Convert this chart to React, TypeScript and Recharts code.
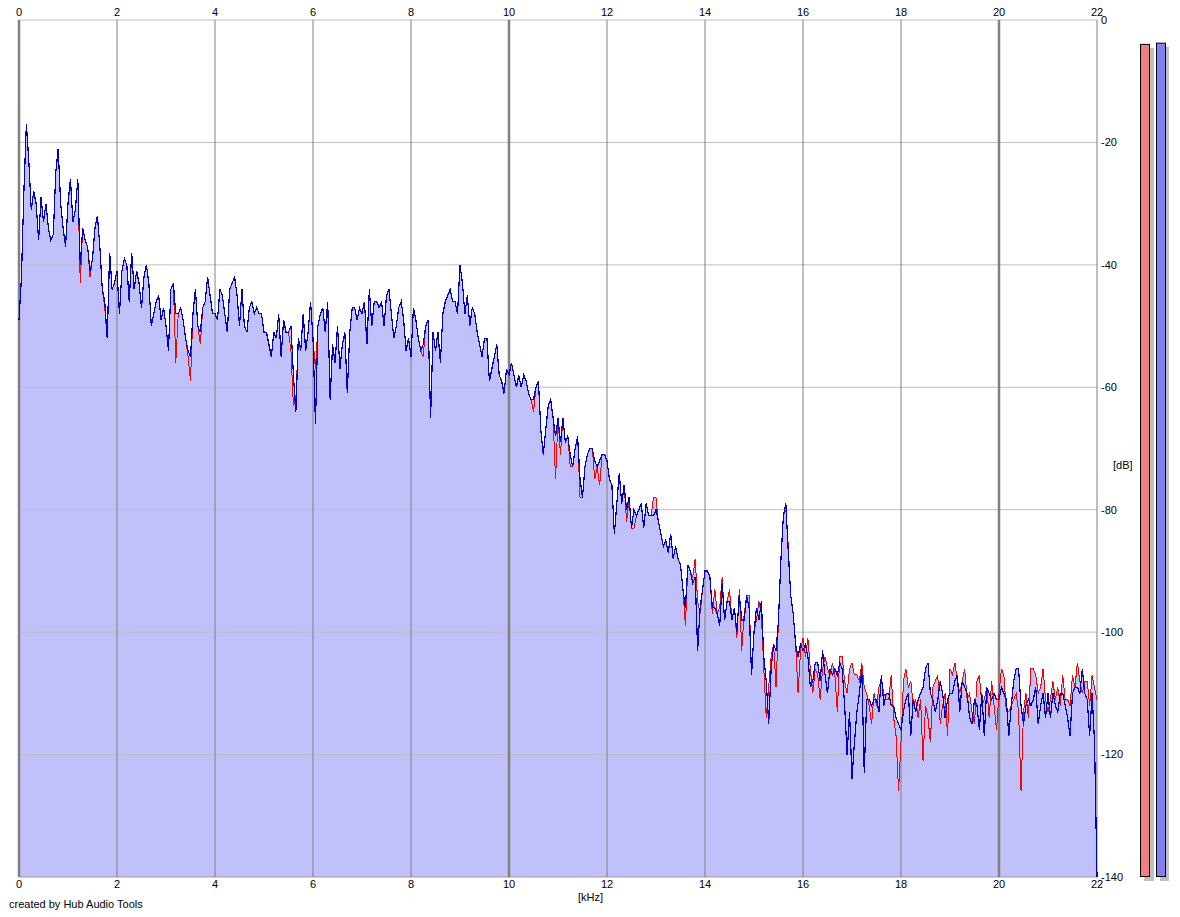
import { ComposedChart, Area, Line, XAxis, YAxis, ReferenceLine, BarChart, Bar } from 'recharts';

// spectrum bins, 0.05 kHz apart, 0 .. 22 kHz (441 bins)
const BIN_KHZ = 0.05;

// left channel (red), dB
const LEFT_DB = [
  -49, -42, -28, -17, -23, -31, -28, -30, -36, -29,
  -33, -30, -34, -36, -35, -25, -21, -30, -34, -37,
  -30, -26, -33, -31, -26, -43, -34, -36, -37, -42,
  -39, -34, -32, -37, -44, -47, -52, -38, -44, -43,
  -41, -48, -41, -39, -40, -46, -38, -44, -41, -43,
  -47, -42, -40, -43, -50, -48, -46, -45, -49, -47,
  -50, -54, -44, -43, -56, -48, -47, -49, -52, -55,
  -59, -48, -44, -50, -53, -47, -46, -42, -45, -48,
  -48, -49, -44, -45, -48, -51, -44, -43, -42, -45,
  -50, -44, -50, -51, -47, -46, -48, -47, -48, -48,
  -51, -51, -53, -55, -51, -52, -48, -55, -49, -51,
  -51, -54, -63, -62, -52, -54, -48, -54, -51, -46,
  -52, -57, -50, -48, -47, -51, -46, -62, -53, -56,
  -50, -57, -53, -51, -61, -51, -47, -47, -49, -47,
  -48, -46, -53, -44, -50, -46, -46, -47, -46, -50,
  -45, -44, -48, -52, -50, -47, -46, -49, -54, -52,
  -55, -47, -49, -52, -54, -55, -50, -49, -65, -51,
  -54, -51, -56, -48, -46, -45, -44, -46, -46, -48,
  -40, -43, -48, -45, -50, -47, -48, -51, -53, -55,
  -52, -52, -59, -57, -55, -53, -58, -59, -61, -57,
  -58, -56, -58, -60, -58, -60, -58, -59, -61, -62,
  -64, -60, -59, -67, -71, -67, -63, -62, -65, -75,
  -65, -71, -65, -69, -68, -73, -73, -70, -68, -78,
  -78, -73, -71, -70, -70, -75, -73, -76, -71, -71,
  -72, -75, -76, -84, -79, -74, -79, -76, -82, -78,
  -83, -83, -81, -80, -79, -83, -79, -81, -81, -78,
  -78, -82, -84, -86, -85, -87, -84, -88, -86, -88,
  -89, -93, -99, -89, -90, -91, -88, -95, -97, -93,
  -90, -90, -91, -97, -93, -97, -96, -91, -98, -95,
  -93, -98, -96, -101, -93, -103, -97, -94, -94, -107,
  -100, -98, -95, -97, -106, -114, -109, -104, -102, -109,
  -98, -88, -81, -80, -86, -94, -97, -102, -110, -103,
  -101, -104, -101, -106, -110, -106, -107, -111, -106, -104,
  -106, -107, -105, -107, -113, -104, -104, -108, -110, -106,
  -105, -107, -107, -108, -105, -109, -110, -112, -115, -110,
  -112, -109, -108, -110, -111, -111, -107, -114, -117, -126,
  -118, -108, -106, -109, -108, -112, -111, -114, -111, -121,
  -112, -114, -118, -109, -108, -107, -115, -112, -110, -117,
  -106, -107, -105, -108, -110, -108, -106, -111, -110, -113,
  -115, -108, -107, -112, -111, -109, -114, -108, -112, -116,
  -110, -106, -107, -113, -113, -112, -111, -110, -113, -126,
  -113, -110, -114, -106, -106, -107, -110, -109, -106, -111,
  -113, -111, -108, -111, -109, -112, -107, -111, -111, -112,
  -107, -109, -105, -108, -110, -108, -108, -112, -107, -109,
  -111,
];

// right channel (blue), dB
const RIGHT_DB = [
  -49, -42, -28, -17, -23, -31, -28, -30, -36, -29,
  -33, -30, -34, -36, -35, -25, -21, -30, -34, -37,
  -30, -26, -33, -31, -26, -40, -34, -36, -37, -41,
  -39, -34, -32, -37, -44, -46, -52, -38, -44, -43,
  -41, -48, -41, -39, -40, -46, -38, -44, -41, -43,
  -47, -42, -40, -43, -50, -48, -46, -45, -49, -47,
  -50, -54, -44, -43, -48, -48, -47, -49, -52, -54,
  -55, -48, -44, -50, -51, -47, -46, -42, -45, -48,
  -48, -49, -44, -45, -48, -51, -44, -43, -42, -45,
  -50, -44, -50, -51, -47, -46, -48, -47, -48, -48,
  -51, -51, -53, -55, -51, -52, -48, -55, -49, -51,
  -51, -50, -58, -64, -52, -54, -48, -54, -51, -46,
  -52, -66, -50, -48, -47, -51, -46, -62, -53, -56,
  -50, -57, -53, -51, -61, -51, -47, -47, -49, -47,
  -48, -46, -53, -44, -50, -46, -46, -47, -46, -50,
  -45, -44, -48, -52, -50, -47, -46, -49, -54, -52,
  -55, -47, -49, -52, -54, -53, -50, -49, -65, -51,
  -54, -51, -56, -48, -46, -45, -44, -46, -46, -48,
  -40, -43, -48, -45, -50, -47, -48, -51, -53, -55,
  -52, -52, -59, -57, -55, -53, -58, -59, -61, -57,
  -58, -56, -58, -60, -58, -60, -58, -59, -61, -62,
  -62, -60, -59, -67, -71, -67, -63, -62, -65, -68,
  -65, -69, -65, -69, -68, -71, -73, -70, -68, -75,
  -78, -73, -71, -70, -70, -72, -73, -72, -71, -71,
  -72, -75, -76, -84, -79, -74, -79, -76, -80, -78,
  -83, -80, -81, -80, -79, -83, -79, -81, -81, -81,
  -80, -82, -84, -86, -85, -87, -84, -88, -86, -88,
  -89, -93, -96, -89, -90, -92, -91, -103, -96, -93,
  -90, -90, -91, -96, -96, -97, -99, -92, -98, -95,
  -95, -98, -96, -100, -94, -98, -98, -94, -96, -107,
  -100, -96, -98, -95, -104, -108, -115, -106, -102, -103,
  -98, -88, -81, -79, -87, -94, -97, -102, -104, -102,
  -103, -102, -104, -109, -108, -105, -105, -108, -103, -107,
  -110, -106, -107, -106, -107, -105, -106, -112, -120, -113,
  -124, -118, -113, -110, -106, -123, -111, -111, -112, -111,
  -111, -113, -107, -112, -110, -110, -112, -112, -114, -115,
  -116, -113, -111, -110, -117, -111, -113, -111, -110, -109,
  -106, -105, -110, -111, -113, -111, -108, -110, -114, -111,
  -110, -110, -108, -107, -113, -108, -109, -110, -114, -115,
  -111, -112, -116, -110, -117, -109, -110, -111, -110, -111,
  -111, -109, -110, -111, -117, -112, -108, -106, -106, -112,
  -115, -112, -111, -112, -111, -109, -115, -112, -110, -114,
  -110, -114, -110, -112, -113, -110, -110, -112, -114, -117,
  -110, -109, -109, -110, -106, -110, -111, -117, -110, -118,
  -140,
];

const FREQ_TICKS = [0, 2, 4, 6, 8, 10, 12, 14, 16, 18, 20, 22];
const DB_TICKS = [0, -20, -40, -60, -80, -100, -120, -140];

// peak meters at the right
const METER_CHANNELS = ['L', 'R'];
const METER_PEAK_DB = [-3.9, -3.7];
const METER_COLORS = ['#f08080', '#8080f0'];

const FILL = '#c0c0fa';
const FONT = '"Liberation Sans", Arial, sans-serif';

const data = LEFT_DB.map((l, i) => ({
  f: Math.round(i * BIN_KHZ * 100) / 100,
  left: l,
  right: RIGHT_DB[i],
}));

const meterData = METER_CHANNELS.map((ch, i) => ({
  ch,
  range: [-140, METER_PEAK_DB[i]],
  color: METER_COLORS[i],
}));

const tickStyle = { fill: '#000', fontSize: 11, fontFamily: FONT };

function MeterBar(props: any) {
  const { x, y, width, height, payload } = props;
  return (
    <g>
      <rect x={x + 4} y={y + 4} width={width} height={height} fill="#c0c0c0" />
      <rect x={x + 0.5} y={y + 0.5} width={width - 1} height={height - 1} fill={payload.color} stroke="#000" />
    </g>
  );
}

export default function App() {
  return (
    <div style={{ position: 'absolute', left: 0, top: 0, width: 1180, height: 917, background: '#fff', fontFamily: FONT }}>
      <ComposedChart width={1180} height={917} data={data} margin={{ top: 0, right: 43, bottom: 20, left: 19 }}>
        <XAxis
          xAxisId="top"
          orientation="top"
          dataKey="f"
          type="number"
          domain={[0, 22]}
          ticks={FREQ_TICKS}
          interval={0}
          height={20}
          axisLine={false}
          tickLine={false}
          tickSize={0}
          tickMargin={4}
          tick={tickStyle}
        />
        <XAxis
          xAxisId="bottom"
          dataKey="f"
          type="number"
          domain={[0, 22]}
          ticks={FREQ_TICKS}
          interval={0}
          height={20}
          axisLine={false}
          tickLine={false}
          tickSize={0}
          tickMargin={3}
          tick={tickStyle}
        />
        <YAxis
          orientation="right"
          type="number"
          domain={[-140, 0]}
          ticks={DB_TICKS}
          interval={0}
          width={40}
          axisLine={false}
          tickLine={false}
          tickSize={0}
          tickMargin={4}
          tick={tickStyle}
        />
        <Area xAxisId="bottom" type="linear" dataKey="left" baseValue={-140} fill={FILL} fillOpacity={1} stroke="none" dot={false} activeDot={false} isAnimationActive={false} />
        <Area xAxisId="bottom" type="linear" dataKey="right" baseValue={-140} fill={FILL} fillOpacity={1} stroke="none" dot={false} activeDot={false} isAnimationActive={false} />
        {DB_TICKS.map((t) => (
          <ReferenceLine key={'y' + t} xAxisId="bottom" y={t} stroke={t === -140 ? '#a0a0a0' : '#bdbdbd'} strokeWidth={1} />
        ))}
        {FREQ_TICKS.map((t) => (
          <ReferenceLine key={'x' + t} xAxisId="bottom" x={t} stroke="#808080" strokeWidth={t % 10 === 0 ? 2.5 : 1} />
        ))}
        <Line xAxisId="bottom" type="linear" dataKey="left" stroke="#ff0000" strokeWidth={1} shapeRendering="crispEdges" dot={false} activeDot={false} isAnimationActive={false} />
        <Line xAxisId="bottom" type="linear" dataKey="right" stroke="#0000c8" strokeWidth={1.2} shapeRendering="crispEdges" dot={false} activeDot={false} isAnimationActive={false} />
      </ComposedChart>

      <div style={{ position: 'absolute', left: 1137, top: 0 }}>
        <BarChart width={32} height={917} data={meterData} margin={{ top: 20, right: 0, bottom: 40, left: 0 }} barSize={10}>
          <XAxis dataKey="ch" hide />
          <YAxis type="number" domain={[-140, 0]} hide />
          <Bar dataKey="range" shape={<MeterBar />} isAnimationActive={false} />
        </BarChart>
      </div>

      <div style={{ position: 'absolute', left: 578, top: 891, fontSize: 11 }}>[kHz]</div>
      <div style={{ position: 'absolute', left: 1113, top: 459, fontSize: 11 }}>[dB]</div>
      <div style={{ position: 'absolute', left: 9, top: 898, fontSize: 11 }}>created by Hub Audio Tools</div>
    </div>
  );
}
